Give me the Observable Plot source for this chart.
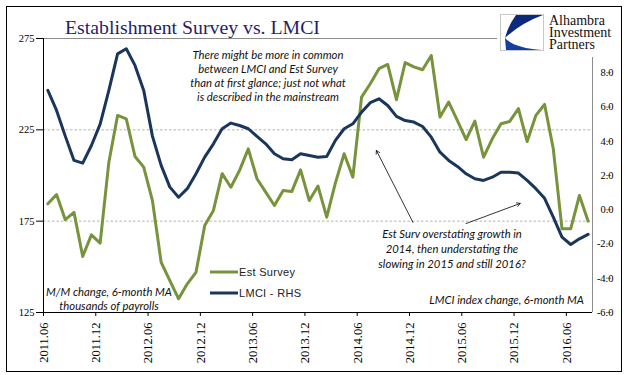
<!DOCTYPE html>
<html><head><meta charset="utf-8">
<script src="https://cdn.jsdelivr.net/npm/d3@7"></script>
<script src="https://cdn.jsdelivr.net/npm/@observablehq/plot@0.6"></script>
<style>body{margin:0;background:#fff}#chart{width:641px;height:375px}</style>
</head><body><div id="chart"></div>
<script>
// ---- data ----
const months = [];
for (let y = 2011, m = 6; !(y === 2016 && m === 9); m === 12 ? (y++, m = 1) : m++) months.push(`${y}.${String(m).padStart(2, "0")}`);
const estSurvey = [184.5,189.6,175.8,179.8,155.7,167.5,163.0,207.3,232.9,231.0,
  210.4,204.6,186.3,152.5,142.5,132.5,140.7,147.0,172.6,180.9,
  201.0,193.6,202.8,214.6,198.2,190.9,183.6,191.8,191.3,203.1,
  186.3,194.2,177.2,196.0,211.9,199.1,242.9,250.2,258.5,260.8,
  241.5,261.8,259.5,257.9,265.7,232.0,240.2,230.1,219.7,229.8,
  210.0,220.1,228.3,229.6,236.6,218.6,232.9,238.9,214.6,170.8,
  170.8,189.1,175.0];
const lmci = [6.97,5.8,4.3,2.88,2.72,3.75,5.0,6.97,9.1,9.4,
  8.43,6.97,4.3,2.59,1.32,0.73,1.23,2.1,3.07,3.85,
  4.73,5.06,4.92,4.73,4.28,3.85,3.27,2.98,2.92,3.27,
  3.17,3.07,3.11,4.05,4.73,5.02,5.7,6.25,6.48,6.09,
  5.45,5.21,5.12,4.86,4.24,3.36,2.88,2.53,2.1,1.81,
  1.71,1.9,2.19,2.19,2.14,1.71,1.23,0.67,-0.43,-1.6,
  -2.03,-1.7,-1.44];
const xTickLabels = ["2011.06","2011.12","2012.06","2012.12","2013.06","2013.12","2014.06","2014.12","2015.06","2015.12","2016.06"];
const leftTicks = [125,175,225,275];
const rightTicks = [-6,-4,-2,0,2,4,6,8];
const seriesNames = ["Est Survey","LMCI - RHS"];
// arrows in data units (month index, left-axis value)
const arrowFrom = [[41.9,174.3],[48.0,173.7]];
const arrowTo = [[37.7,213.7],[54.2,184.7]];

// ---- styles ----
const green = "#77933c", navy = "#1b365d";
const leftDomain = [125,275], rightDomain = [-6,10];
const toLeft = r => leftDomain[0] + (r - rightDomain[0]) * (leftDomain[1]-leftDomain[0])/(rightDomain[1]-rightDomain[0]);
const fromLeft = v => (v - leftDomain[0]) * (rightDomain[1]-rightDomain[0])/(leftDomain[1]-leftDomain[0]) + rightDomain[0];
const data = months.map((m,i) => ({i, m, est: estSurvey[i], lmci: lmci[i]}));
const tickIdx = xTickLabels.map(l => months.indexOf(l));
const arrows = arrowFrom.map((a,k) => ({x1:a[0], y1:a[1], x2:arrowTo[k][0], y2:arrowTo[k][1]}));

const chart = Plot.plot({
  width: 641, height: 375,
  marginLeft: 43, marginRight: 49, marginTop: 38, marginBottom: 63,
  style: {fontFamily: "'Liberation Serif', serif", fontSize: "10.5px", background: "transparent", color: "#000"},
  x: {domain: [-0.5, months.length - 0.5]},
  y: {domain: leftDomain},
  marks: [
    Plot.ruleY([175,225], {stroke: "#a0a0a0", strokeDasharray: "2.5,2", strokeWidth: 0.8}),
    Plot.ruleY([leftDomain[1]], {stroke: "#8c8c8c"}),
    Plot.ruleX([months.length - 0.5], {stroke: "#8c8c8c"}),
    Plot.axisY(leftTicks, {anchor: "left", tickSize: 7, tickPadding: 2, tickFormat: d => String(d), label: null}),
    Plot.axisY(rightTicks.map(toLeft), {anchor: "right", tickSize: 5, tickPadding: 3, textAnchor: "end", dx: 13,
      tickFormat: d => fromLeft(d).toFixed(1), stroke: "#8c8c8c", fill: "#000", label: null}),
    Plot.axisX(tickIdx.map(i => i - 0.5), {tickSize: 4, tickFormat: () => "", label: null}),
    Plot.text(tickIdx, {x: d => d, frameAnchor: "bottom", text: d => months[d], rotate: -90, textAnchor: "end", dy: 10, fontSize: 12.5}),
    Plot.ruleX([-0.5], {stroke: "#000"}),
    Plot.ruleY([leftDomain[0]], {stroke: "#000"}),
    Plot.line(data, {x: "i", y: "est", stroke: green, strokeWidth: 3, strokeLinejoin: "round"}),
    Plot.line(data, {x: "i", y: d => toLeft(d.lmci), stroke: navy, strokeWidth: 3, strokeLinejoin: "round"}),
    Plot.arrow(arrows, {x1: "x1", y1: "y1", x2: "x2", y2: "y2", stroke: "#000", strokeWidth: 0.8, headLength: 7})
  ]
});
document.getElementById("chart").append(chart);

const svg = d3.select(chart);
const over = svg.append("g").attr("text-anchor", "start");
over.append("rect").attr("x",6.5).attr("y",6.5).attr("width",615).attr("height",365)
  .attr("fill","none").attr("stroke","#000").attr("stroke-width",1);
// title
over.append("text").attr("x",65).attr("y",34).text("Establishment Survey vs. LMCI")
  .attr("font-family","'Liberation Serif', serif").attr("font-size",19.8).attr("fill","#1f1f6b");
// logo
over.append("rect").attr("x",497).attr("y",8).attr("width",123).attr("height",49).attr("fill","#fff");
over.append("rect").attr("x",500.5).attr("y",14.5).attr("width",43).attr("height",36)
  .attr("fill","#fff").attr("stroke","#c8c8c8").attr("stroke-width",1);
over.append("path").attr("d","M516,15 L543,15 Q521,23 505,38 Q508,26 516,15 Z").attr("fill","#0c2a7a");
over.append("path").attr("d","M505,38 Q514,48 542,50 L506,50 Z").attr("fill","#1540a0");
["Alhambra","Investment","Partners"].forEach((t,k) => over.append("text").attr("x",549).attr("y",24.5+k*12.3).text(t)
  .attr("text-anchor","start").attr("font-family","'Liberation Serif', serif").attr("font-size",14).attr("fill","#111"));
// notes
const note = (lines, x, y0, lh, anchor) => lines.forEach((t,k) => over.append("text")
  .attr("x",x).attr("y",y0+k*lh).attr("text-anchor",anchor).text(t)
  .attr("font-family","Lato, sans-serif").attr("font-style","italic").attr("font-size",11.3).attr("fill","#111"));
note(["There might be more in common","between LMCI and Est Survey","than at first glance; just not what","is described in the mainstream"], 268, 58.5, 14, "middle");
note(["Est Surv overstating growth in","2014, then understating the","slowing in 2015 and still 2016?"], 452, 238, 15, "middle");
note(["M/M change, 6-month MA","thousands of payrolls"], 109, 295.5, 14.5, "middle");
note(["LMCI index change, 6-month MA"], 584, 304, 14, "end");
// legend
[green, navy].forEach((c,k) => {
  over.append("line").attr("x1",210).attr("x2",238).attr("y1",272+k*21).attr("y2",272+k*21)
    .attr("stroke",c).attr("stroke-width",3);
  over.append("text").attr("x",239).attr("y",276+k*21).text(seriesNames[k]).attr("text-anchor","start")
    .attr("font-family","'Liberation Sans', sans-serif").attr("font-size",11).attr("letter-spacing",0.3).attr("fill","#222");
});
</script></body></html>
